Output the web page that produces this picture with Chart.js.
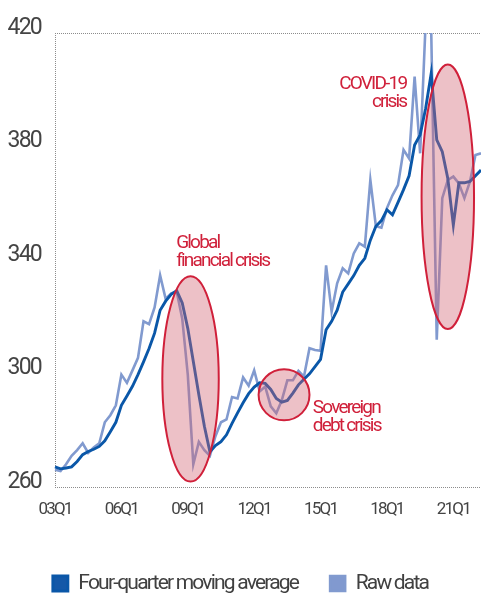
<!DOCTYPE html>
<html>
<head>
<meta charset="utf-8">
<script src="https://cdn.jsdelivr.net/npm/chart.js@4/dist/chart.umd.min.js"></script>
<style>
  html, body { margin: 0; padding: 0; background: #fff; overflow: hidden; }
  #wrap { width: 481px; height: 604px; }
</style>
</head>
<body>
<div id="wrap"><canvas id="c" width="481" height="604"></canvas></div>
<script>
// Quarters 2003Q1 .. 2022Q2
const quarters = [
 '03Q1','03Q2','03Q3','03Q4','04Q1','04Q2','04Q3','04Q4','05Q1','05Q2','05Q3','05Q4',
 '06Q1','06Q2','06Q3','06Q4','07Q1','07Q2','07Q3','07Q4','08Q1','08Q2','08Q3','08Q4',
 '09Q1','09Q2','09Q3','09Q4','10Q1','10Q2','10Q3','10Q4','11Q1','11Q2','11Q3','11Q4',
 '12Q1','12Q2','12Q3','12Q4','13Q1','13Q2','13Q3','13Q4','14Q1','14Q2','14Q3','14Q4',
 '15Q1','15Q2','15Q3','15Q4','16Q1','16Q2','16Q3','16Q4','17Q1','17Q2','17Q3','17Q4',
 '18Q1','18Q2','18Q3','18Q4','19Q1','19Q2','19Q3','19Q4','20Q1','20Q2','20Q3','20Q4',
 '21Q1','21Q2','21Q3','21Q4','22Q1','22Q2'
];
const tickLabels = ['03Q1','06Q1','09Q1','12Q1','15Q1','18Q1','21Q1'];
const yTicks = [260, 300, 340, 380, 420];

const movingAverage = [
 267.1,266.4,266.7,267.1,269.0,271.4,272.5,273.3,274.3,276.3,279.5,282.8,
 288.8,292.1,295.5,299.6,304.1,308.8,314.2,322.3,325.5,327.9,329.2,324.9,
 315.9,304.2,292.5,281.4,272.4,274.6,276.0,278.4,282.4,286.1,289.7,292.9,
 295.2,296.7,296.5,294.4,291.2,289.9,290.5,293.1,296.0,298.0,299.9,302.4,
 305.0,315.4,318.4,322.3,328.7,331.6,334.5,338.1,340.6,347.0,351.9,353.9,
 357.7,355.9,360.3,364.8,369.7,380.5,384.1,393.5,405.8,382.3,378.2,368.7,
 352.3,367.2,367.2,367.7,369.7,371.7
];
const rawData = [
 266.1,265.6,268.0,271.0,273.0,275.4,272.0,273.9,275.4,282.8,285.3,288.8,
 299.6,296.7,301.1,305.5,318.4,317.4,323.3,334.6,326.3,328.2,328.8,319.3,
 299.6,268.0,275.9,273.0,271.0,277.9,282.8,283.8,291.7,291.2,298.6,295.7,
 301.1,293.7,295.4,288.4,286.0,290.6,297.6,297.6,300.9,298.9,308.9,308.3,
 308.0,338.1,321.8,331.8,337.1,335.3,342.3,345.9,344.7,368.2,351.9,351.4,
 358.3,362.8,366.4,378.8,375.8,404.6,377.6,424.0,421.0,311.9,361.8,368.2,
 369.4,367.0,361.8,367.6,377.0,377.6
];

// Crisis highlights: centre (quarter index, value) and radii (quarters, value units)
const crisisNames = ['Global financial crisis', 'Sovereign debt crisis', 'COVID-19 crisis'];
const crisisCentreX = [24.5, 41.4, 71.0];
const crisisCentreY = [298.1, 292.5, 362.3];
const crisisRadiusX = [5.1, 4.6, 4.74];
const crisisRadiusY = [36.2, 9.0, 46.6];
// Label text lines and anchors (quarter index, value)
const crisisLabelLines = [['Global', 'financial crisis'], ['Sovereign', 'debt crisis'], ['COVID-19', 'crisis']];
const crisisLabelX = [21.9, 46.6, 63.5];
const crisisLabelY = [344.2, 286.0, 400.2];
const crisisLabelAlign = ['left', 'left', 'right'];

const FONT = "'Roboto', 'Liberation Sans', sans-serif";
const SPACING = '-1.8px';
Chart.defaults.font.family = FONT;
Chart.defaults.color = '#444';

const frameColor = '#8c8c8c';

const condensePlugin = {
  id: 'condense',
  beforeUpdate(chart) { chart.ctx.letterSpacing = SPACING; },
  beforeLayout(chart) { chart.ctx.letterSpacing = SPACING; },
  beforeDraw(chart) { chart.ctx.letterSpacing = SPACING; }
};

const crisisPlugin = {
  id: 'crisis',
  afterDatasetsDraw(chart) {
    const ctx = chart.ctx;
    const xs = chart.scales.x, ys = chart.scales.y;
    ctx.save();
    for (let i = 0; i < crisisNames.length; i++) {
      const cx = xs.getPixelForValue(crisisCentreX[i]);
      const cy = ys.getPixelForValue(crisisCentreY[i]);
      const rx = Math.abs(xs.getPixelForValue(crisisCentreX[i] + crisisRadiusX[i]) - cx);
      const ry = Math.abs(ys.getPixelForValue(crisisCentreY[i] + crisisRadiusY[i]) - cy);
      ctx.beginPath();
      ctx.ellipse(cx, cy, rx, ry, 0, 0, Math.PI * 2);
      ctx.fillStyle = 'rgba(210,100,115,0.4)';
      ctx.fill();
      ctx.lineWidth = 2;
      ctx.strokeStyle = '#d0203a';
      ctx.stroke();
    }
    ctx.fillStyle = '#d0203a';
    ctx.font = '19px ' + FONT;
    ctx.letterSpacing = SPACING;
    ctx.textBaseline = 'alphabetic';
    for (let i = 0; i < crisisLabelLines.length; i++) {
      const tx = xs.getPixelForValue(crisisLabelX[i]);
      const ty = ys.getPixelForValue(crisisLabelY[i]);
      ctx.textAlign = crisisLabelAlign[i];
      crisisLabelLines[i].forEach((line, k) => ctx.fillText(line, tx, ty + k * 17.5));
    }
    ctx.restore();
  }
};

new Chart(document.getElementById('c'), {
  type: 'line',
  data: {
    labels: quarters,
    datasets: [
      { label: 'Four-quarter moving average', data: movingAverage,
        borderColor: '#0a57a8', backgroundColor: '#1458a8', borderWidth: 2.9,
        pointRadius: 0, tension: 0 },
      { label: 'Raw data', data: rawData,
        borderColor: '#819acf', backgroundColor: '#8199cf', borderWidth: 2.6,
        pointRadius: 0, tension: 0 }
    ]
  },
  options: {
    responsive: false,
    animation: false,
    devicePixelRatio: 1,
    layout: { padding: { top: 33, left: 0, right: 0, bottom: 0 } },
    plugins: {
      legend: {
        position: 'bottom',
        labels: { boxWidth: 15, boxHeight: 15, padding: 32, color: '#404040',
                  font: { size: 21 } }
      },
      tooltip: { enabled: false }
    },
    scales: {
      x: {
        type: 'category',
        offset: false,
        grid: { display: true, drawTicks: false,
                color: (c) => (c.index === 0 ? frameColor : 'transparent'), lineWidth: 1 },
        border: { display: false, dash: [1, 1] },
        ticks: {
          autoSkip: false, maxRotation: 0, padding: 13, color: '#444', font: { size: 17 },
          callback: function (v, i) { const l = quarters[i]; return tickLabels.includes(l) ? l : ''; }
        },
        afterFit: (s) => { s.height = 54; s.paddingLeft = 0; s.paddingRight = 0; }
      },
      y: {
        min: 260, max: 420,
        afterBuildTicks: (s) => { s.ticks = yTicks.map(v => ({ value: v })); },
        grid: { display: true, drawTicks: false,
                color: (c) => ((c.tick && (c.tick.value === 420 || c.tick.value === 260)) ? frameColor : 'transparent'),
                lineWidth: 1 },
        border: { display: false, dash: [1, 1] },
        ticks: { padding: 14, labelOffset: -5, color: '#444', font: { size: 23 } },
        afterFit: (s) => { s.width = 55; }
      }
    }
  },
  plugins: [condensePlugin, crisisPlugin]
});
</script>
</body>
</html>
